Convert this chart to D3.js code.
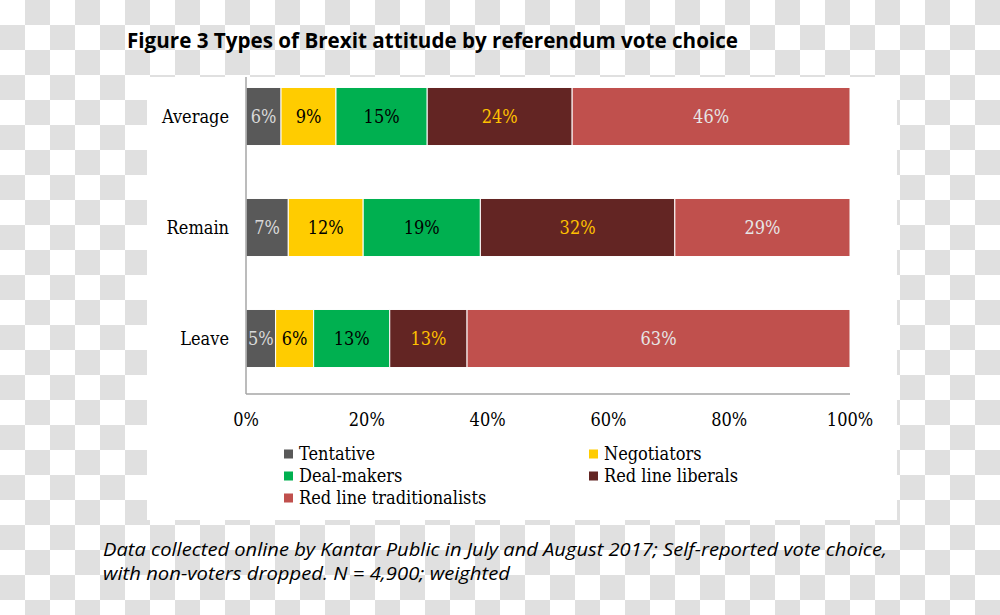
<!DOCTYPE html>
<html><head><meta charset="utf-8">
<script src="https://cdn.jsdelivr.net/npm/d3@7"></script>
<style>
html,body{margin:0;padding:0;background:#fff;}
svg{display:block;}
</style></head>
<body>
<script>
// ---- data ----
const categories = ["Average", "Remain", "Leave"];
const seriesNames = ["Tentative", "Negotiators", "Deal-makers", "Red line liberals", "Red line traditionalists"];
const tentative      = [5.8, 7.0, 4.9];
const negotiators    = [9.1, 12.4, 6.3];
const dealMakers     = [15.1, 19.4, 12.6];
const redLiberals    = [24.0, 32.2, 12.8];
const redTraditional = [46.0, 29.0, 63.4];
const labelTexts = [
  ["6%", "7%", "5%"],
  ["9%", "12%", "6%"],
  ["15%", "19%", "13%"],
  ["24%", "32%", "13%"],
  ["46%", "29%", "63%"]
];
const xTicks = [0, 20, 40, 60, 80, 100];
const titleText = "Figure 3 Types of Brexit attitude by referendum vote choice";
const noteLines = ["Data collected online by Kantar Public in July and August 2017; Self-reported vote choice,",
                   "with non-voters dropped. N = 4,900; weighted"];

const colors = ["#595959", "#FFCC00", "#00B050", "#632523", "#C0504D"];
const labelColors = ["#d9d9d9", "#000000", "#000000", "#FFC000", "#e6e6e6"];
const seriesValues = [tentative, negotiators, dealMakers, redLiberals, redTraditional];

const W = 1000, H = 615;
const svg = d3.select("body").append("svg").attr("width", W).attr("height", H);

// checkerboard background
const defs = svg.append("defs");
const pat = defs.append("pattern").attr("id", "checker").attr("patternUnits", "userSpaceOnUse")
  .attr("width", 50).attr("height", 50);
pat.append("rect").attr("width", 50).attr("height", 50).attr("fill", "#ffffff");
pat.append("rect").attr("x", 25).attr("y", 0).attr("width", 25).attr("height", 25).attr("fill", "#e0e0e0");
pat.append("rect").attr("x", 0).attr("y", 25).attr("width", 25).attr("height", 25).attr("fill", "#e0e0e0");
svg.append("rect").attr("width", W).attr("height", H).attr("fill", "url(#checker)");

// white chart box
svg.append("rect").attr("x", 147).attr("y", 77).attr("width", 750).attr("height", 443).attr("fill", "#ffffff");

const serif = "'DejaVu Serif Condensed', 'DejaVu Serif', serif";
const fs = 18;

// title
svg.append("text").attr("x", 127).attr("y", 48)
  .attr("font-family", "'Liberation Sans Narrow', 'Open Sans', sans-serif")
  .attr("font-weight", "bold").attr("font-size", 22).attr("fill", "#000")
  .attr("textLength", 611).attr("lengthAdjust", "spacingAndGlyphs")
  .text(titleText);

// scales
const x = d3.scaleLinear().domain([0, 100]).range([246, 850]);
const y = d3.scaleBand().domain(categories).range([61, 394]).paddingInner(0.477).paddingOuter(0.2385);

// stack
const rows = categories.map((c, i) => {
  const o = {cat: c};
  seriesNames.forEach((s, k) => o[s] = seriesValues[k][i]);
  return o;
});
const stacked = d3.stack().keys(seriesNames)(rows);

const g = svg.append("g");
stacked.forEach((layer, k) => {
  const lg = g.append("g");
  lg.selectAll("rect").data(layer).join("rect")
    .attr("x", d => x(d[0]))
    .attr("y", (d, i) => y(categories[i]))
    .attr("width", d => x(d[1]) - x(d[0]))
    .attr("height", y.bandwidth())
    .attr("fill", colors[k])
    .attr("stroke", "#ffffff").attr("stroke-width", 1);
  lg.selectAll("text").data(layer).join("text")
    .attr("x", d => (x(d[0]) + x(d[1])) / 2)
    .attr("y", (d, i) => y(categories[i]) + y.bandwidth() / 2)
    .attr("dy", "0.36em")
    .attr("text-anchor", "middle")
    .attr("font-family", serif).attr("font-size", fs)
    .attr("fill", labelColors[k])
    .text((d, i) => labelTexts[k][i]);
});

// axes lines
svg.append("line").attr("x1", 246).attr("x2", 246).attr("y1", 77).attr("y2", 394)
  .attr("stroke", "#a6a6a6").attr("stroke-width", 1.5);
svg.append("line").attr("x1", 246).attr("x2", 850).attr("y1", 394).attr("y2", 394)
  .attr("stroke", "#a6a6a6").attr("stroke-width", 1.5);

// category labels
svg.append("g").selectAll("text").data(categories).join("text")
  .attr("x", 229).attr("y", d => y(d) + y.bandwidth() / 2).attr("dy", "0.36em")
  .attr("text-anchor", "end").attr("font-family", serif).attr("font-size", fs).attr("fill", "#000")
  .text(d => d);

// x tick labels
svg.append("g").selectAll("text").data(xTicks).join("text")
  .attr("x", d => x(d)).attr("y", 426).attr("text-anchor", "middle")
  .attr("font-family", serif).attr("font-size", fs).attr("fill", "#000")
  .text(d => d + "%");

// legend
const legendPos = [[284, 454], [589, 454], [284, 476], [589, 476], [284, 498]];
const lg = svg.append("g");
seriesNames.forEach((s, k) => {
  const [lx, ly] = legendPos[k];
  lg.append("rect").attr("x", lx).attr("y", ly - 4.5).attr("width", 9).attr("height", 9).attr("fill", colors[k]);
  lg.append("text").attr("x", lx + 15).attr("y", ly).attr("dy", "0.36em")
    .attr("font-family", serif).attr("font-size", fs).attr("fill", "#000").text(s);
});

// footnote
svg.append("g").selectAll("text").data(noteLines).join("text")
  .attr("x", 103).attr("y", (d, i) => 556 + i * 24)
  .attr("font-family", "'Liberation Sans Narrow', 'Open Sans', sans-serif")
  .attr("font-style", "italic").attr("font-size", 18).attr("fill", "#000")
  .attr("textLength", (d, i) => i === 0 ? 784 : 407).attr("lengthAdjust", "spacingAndGlyphs")
  .text(d => d);
</script>
</body></html>
